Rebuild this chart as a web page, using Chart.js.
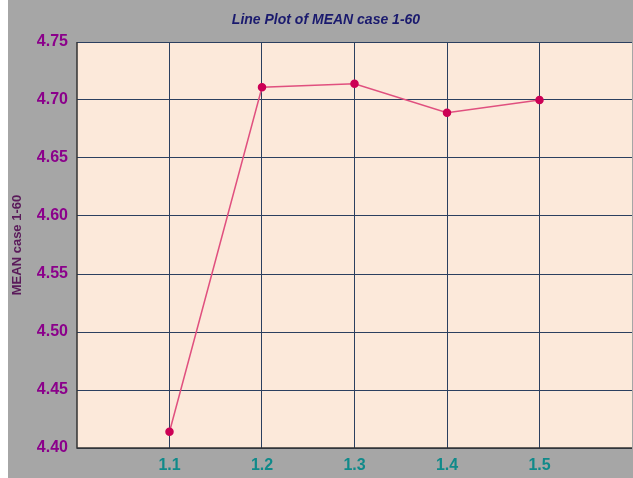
<!DOCTYPE html>
<html><head><meta charset="utf-8">
<script src="https://cdn.jsdelivr.net/npm/chart.js@4.4.1/dist/chart.umd.min.js"></script>
<style>
html,body{margin:0;padding:0;background:#fff;overflow:hidden;}
#wrap{position:absolute;left:0;top:0;width:633px;height:478px;background:linear-gradient(to right,#ffffff 8px,#a6a6a6 8px);}
canvas{display:block;}
</style></head><body>
<div id="wrap"><canvas id="c" width="633" height="478"></canvas></div>
<script>
const xValues = [1.1, 1.2, 1.3, 1.4, 1.5];
const meanValues = [4.414, 4.711, 4.714, 4.689, 4.700];
const chartTitle = 'Line Plot of MEAN case 1-60';
const yTitle = 'MEAN case 1-60';

const plotBg = {
  id: 'plotBg',
  beforeDraw(chart) {
    const {ctx, chartArea: a} = chart;
    ctx.save();
    ctx.fillStyle = '#fce9da';
    ctx.fillRect(a.left, a.top, a.right - a.left, a.bottom - a.top);
    ctx.restore();
  },
  afterDraw(chart) {
    const {ctx, chartArea: a} = chart;
    ctx.save();
    ctx.fillStyle = '#1a1a6e';
    ctx.font = 'italic bold 14px Arial, "Liberation Sans", sans-serif';
    ctx.textAlign = 'center';
    ctx.textBaseline = 'middle';
    ctx.fillText(chartTitle, 326, 20);
    ctx.strokeStyle = '#333333';
    ctx.lineWidth = 1.5;
    ctx.beginPath();
    ctx.moveTo(a.left, a.top);
    ctx.lineTo(a.left, a.bottom);
    ctx.lineTo(a.right, a.bottom);
    ctx.stroke();
    ctx.restore();
  }
};

new Chart(document.getElementById('c'), {
  type: 'line',
  data: {
    datasets: [{
      data: xValues.map((x, i) => ({x: x, y: meanValues[i]})),
      borderColor: '#e0507f',
      borderWidth: 1.5,
      pointBackgroundColor: '#cc0055',
      pointBorderColor: '#cc0055',
      pointRadius: 3.5,
      tension: 0
    }]
  },
  options: {
    responsive: false,
    animation: false,
    layout: {padding: {top: 42, right: 1, left: 0, bottom: 0}, autoPadding: false},
    plugins: {legend: {display: false}, title: {display: false}, tooltip: {enabled: false}},
    scales: {
      x: {
        type: 'linear', min: 1.0, max: 1.6,
        afterFit(s) { s.height = 30; s.paddingLeft = 0; s.paddingRight = 0; },
        border: {display: false},
        grid: {drawTicks: false, color: (c) => (c.tick && (Math.abs(c.tick.value - 1.0) < 1e-6 || Math.abs(c.tick.value - 1.6) < 1e-6)) ? 'rgba(0,0,0,0)' : '#2b3f5f'},
        ticks: {
          stepSize: 0.1, padding: 8,
          color: '#108a8a',
          font: {family: 'Arial, "Liberation Sans", sans-serif', size: 16, weight: 'bold'},
          callback: (v) => (v < 1.05 || v > 1.55) ? '' : v.toFixed(1)
        }
      },
      y: {
        min: 4.40, max: 4.75,
        afterFit(s) { s.width = 77; s.paddingTop = 0; s.paddingBottom = 0; },
        border: {display: false},
        grid: {drawTicks: false, color: '#2b3f5f'},
        ticks: {
          stepSize: 0.05, padding: 9,
          color: '#8b008b',
          font: {family: 'Arial, "Liberation Sans", sans-serif', size: 16, weight: 'bold'},
          callback: (v) => v.toFixed(2)
        },
        title: {
          display: true, text: yTitle, color: '#5a1a5a',
          padding: {top: 10, bottom: 0},
          font: {family: 'Arial, "Liberation Sans", sans-serif', size: 13, weight: 'bold'}
        }
      }
    }
  },
  plugins: [plotBg]
});
</script></body></html>
